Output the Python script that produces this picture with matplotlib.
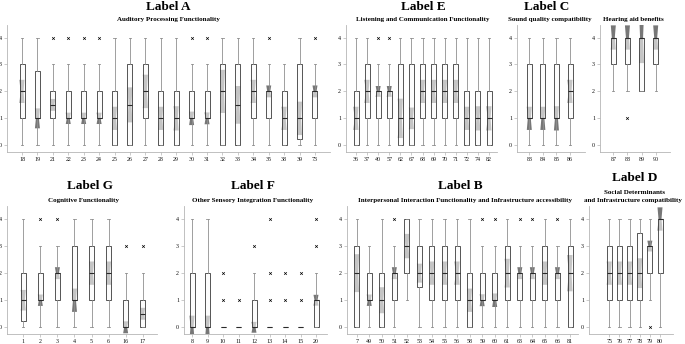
import numpy as np
import matplotlib
matplotlib.use("Agg")
import matplotlib.pyplot as plt

W, H = 685, 344
plt.rcParams["font.family"] = ["Liberation Serif", "DejaVu Serif"]

# columns: item, whisker low, q1, median, q3, whisker high, notch low, notch high
A_rows = [
    ("18", 0, 1, 2, 3, 4, 1.57, 2.43),
    ("19", 0, 1, 1, 2.75, 4, 0.63, 1.37),
    ("21", 0, 1, 1.5, 2, 3, 1.28, 1.72),
    ("22", 0, 1, 1, 2, 3, 0.79, 1.21),
    ("23", 0, 1, 1, 2, 3, 0.79, 1.21),
    ("24", 0, 1, 1, 2, 3, 0.79, 1.21),
    ("25", 0, 0, 1, 2, 4, 0.57, 1.43),
    ("26", 0, 0, 1.5, 3, 4, 0.85, 2.15),
    ("27", 0, 1, 2, 3, 4, 1.38, 2.62),
    ("28", 0, 0, 1, 2, 4, 0.57, 1.43),
    ("29", 0, 0, 1, 2, 4, 0.55, 1.45),
    ("30", 0, 1, 1, 2, 3, 0.75, 1.25),
    ("31", 0, 1, 1, 2, 3, 0.78, 1.22),
    ("32", 0, 0, 2, 3, 4, 1.2, 2.8),
    ("33", 0, 0, 1.5, 3, 4, 0.8, 2.2),
    ("34", 0, 1, 2, 3, 4, 1.57, 2.43),
    ("35", 0, 1, 2, 2, 3, 1.78, 2.22),
    ("38", 0, 0, 1, 2, 3, 0.57, 1.43),
    ("39", 0, 0.25, 1, 3, 4, 0.38, 1.62),
    ("73", 0, 1, 2, 2, 3, 1.78, 2.22),
]
A_out = {"21": [4], "22": [4], "23": [4], "24": [4], "30": [4], "31": [4], "35": [4], "73": [4]}

E_rows = [
    ("36", 0, 0, 1, 2, 4, 0.57, 1.43),
    ("37", 0, 1, 2, 3, 4, 1.57, 2.43),
    ("40", 0, 1, 2, 2, 3, 1.8, 2.2),
    ("57", 0, 1, 2, 2, 3, 1.8, 2.2),
    ("62", 0, 0, 1, 3, 4, 0.27, 1.73),
    ("67", 0, 0, 1, 3, 4, 0.6, 1.4),
    ("68", 0, 1, 2, 3, 4, 1.57, 2.43),
    ("69", 0, 1, 2, 3, 4, 1.57, 2.43),
    ("70", 0, 1, 2, 3, 4, 1.57, 2.43),
    ("71", 0, 1, 2, 3, 4, 1.57, 2.43),
    ("72", 0, 0, 1, 2, 4, 0.57, 1.43),
    ("74", 0, 0, 1, 2, 4, 0.55, 1.45),
    ("82", 0, 0, 1, 2, 4, 0.55, 1.45),
]
E_out = {"40": [4], "57": [4]}

C_rows = [
    ("83", 0, 1, 1, 3, 4, 0.57, 1.43),
    ("84", 0, 1, 1, 3, 4, 0.57, 1.43),
    ("85", 0, 1, 1, 3, 4, 0.55, 1.45),
    ("86", 0, 1, 2, 3, 4, 1.57, 2.43),
]
C_out = {}

HA_rows = [
    ("87", 2, 3, 4, 4, 4, 3.55, 4.45),
    ("88", 2, 3, 4, 4, 4, 3.55, 4.45),
    ("89", 2, 2, 4, 4, 4, 3.05, 4.95),
    ("90", 2, 3, 4, 4, 4, 3.55, 4.45),
]
HA_out = {"88": [1]}

G_rows = [
    ("1", 0, 0.25, 1, 2, 4, 0.62, 1.38),
    ("2", 0, 1, 1, 2, 3, 0.79, 1.21),
    ("3", 0, 1, 2, 2, 3, 1.78, 2.22),
    ("4", 0, 1, 1, 3, 4, 0.57, 1.43),
    ("5", 0, 1, 2, 3, 4, 1.57, 2.43),
    ("6", 0, 1, 2, 3, 4, 1.57, 2.43),
    ("16", 0, 0, 0, 1, 2, -0.22, 0.22),
    ("17", 0, 0, 0.5, 1, 2, 0.28, 0.72),
]
G_out = {"2": [4], "3": [4], "16": [3], "17": [3]}

F_rows = [
    ("8", 0, 0, 0, 2, 4, -0.43, 0.43),
    ("9", 0, 0, 0, 2, 4, -0.43, 0.43),
    ("10", 0, 0, 0, 0, 0, 0, 0),
    ("11", 0, 0, 0, 0, 0, 0, 0),
    ("12", 0, 0, 0, 1, 2, -0.2, 0.2),
    ("13", 0, 0, 0, 0, 0, 0, 0),
    ("14", 0, 0, 0, 0, 0, 0, 0),
    ("15", 0, 0, 0, 0, 0, 0, 0),
    ("20", 0, 0, 1, 1, 2, 0.8, 1.2),
]
F_out = {"10": [1, 2], "11": [1], "12": [3], "13": [1, 2, 4], "14": [1, 2],
         "15": [1, 2], "20": [3, 4]}

B_rows = [
    ("7", 0, 0, 2, 3, 4, 1.3, 2.7),
    ("49", 0, 1, 1, 2, 3, 0.79, 1.21),
    ("50", 0, 0, 1, 2, 4, 0.52, 1.48),
    ("51", 0, 1, 2, 2, 3, 1.78, 2.22),
    ("52", 1, 2, 3, 4, 4, 2.55, 3.45),
    ("53", 0, 1.5, 2, 3, 4, 1.65, 2.35),
    ("54", 0, 1, 2, 3, 4, 1.57, 2.43),
    ("55", 0, 1, 2, 3, 4, 1.57, 2.43),
    ("56", 0, 1, 2, 3, 4, 1.57, 2.43),
    ("58", 0, 0, 1, 2, 4, 0.57, 1.43),
    ("59", 0, 1, 1, 2, 3, 0.78, 1.22),
    ("60", 0, 1, 1, 2, 3, 0.75, 1.25),
    ("61", 0, 1, 2, 3, 4, 1.47, 2.53),
    ("63", 0, 1, 2, 2, 3, 1.78, 2.22),
    ("64", 0, 1, 2, 2, 3, 1.78, 2.22),
    ("65", 0, 1, 2, 3, 4, 1.57, 2.43),
    ("66", 0, 1, 2, 2, 3, 1.78, 2.22),
    ("81", 0, 0, 2, 3, 4, 1.33, 2.67),
]
B_out = {"51": [4], "59": [4], "60": [4], "63": [4], "64": [4], "66": [4]}

D_rows = [
    ("75", 0, 1, 2, 3, 4, 1.57, 2.43),
    ("76", 0, 1, 2, 3, 4, 1.57, 2.43),
    ("77", 0, 1, 2, 3, 4, 1.57, 2.43),
    ("78", 0, 1, 2, 3.5, 4, 1.45, 2.55),
    ("79", 1, 2, 3, 3, 4, 2.8, 3.2),
    ("80", 0, 2, 4, 4, 4, 3.57, 4.43),
]
D_out = {"79": [0]}

YLIM = (-0.24, 4.47)
BOX_PX = 5.0

fig = plt.figure(figsize=(W / 100, H / 100), dpi=100)


def draw_panel(rows, outliers, left, right, first, last, row_px):
    n = len(rows)
    step = (last - first) / (n - 1)
    x0 = 1 - (first - left) / step
    x1 = n + (right - last) / step
    # pixel position of y=0 and y=4 for this row
    p0, p4 = row_px
    unit = (p0 - p4) / 4
    top = p4 - (YLIM[1] - 4) * unit
    bottom = p0 - YLIM[0] * unit
    ax = fig.add_axes([left / W, 1 - bottom / H, (right - left) / W, (bottom - top) / H])
    ax.set_xlim(x0, x1)
    ax.set_ylim(*YLIM)
    w = BOX_PX / step

    stats = []
    pos = np.arange(1, n + 1)
    for i, (name, lo, q1, med, q3, hi, clo, chi) in enumerate(rows):
        stats.append(dict(label=name, whislo=lo, q1=q1, med=med, q3=q3,
                          whishi=hi, fliers=outliers.get(name, [])))
        # notch drawn underneath a translucent box
        x = pos[i]
        xs = [x - w / 2, x - w * 0.3, x - w / 2, x + w / 2, x + w * 0.3, x + w / 2]
        ys = [clo, med, chi, chi, med, clo]
        ax.fill(xs, ys, color="#777777", lw=0, zorder=1.5)

    ax.bxp(stats, positions=pos, widths=w, capwidths=w * 0.45, patch_artist=True,
           boxprops=dict(facecolor=(0.98, 0.98, 0.98, 0.6), edgecolor="#3a3a3a", linewidth=0.6),
           whiskerprops=dict(color="#8f8f8f", linewidth=0.6),
           capprops=dict(color="#8f8f8f", linewidth=0.6),
           medianprops=dict(color="#2a2a2a", linewidth=0.8),
           flierprops=dict(marker="x", markersize=1.9, markeredgewidth=0.5,
                           markeredgecolor="black"))

    ax.set_yticks([0, 1, 2, 3, 4])
    ax.set_xticks(pos)
    ax.set_xticklabels([r[0] for r in rows])
    for s in ["top", "right"]:
        ax.spines[s].set_visible(False)
    for s in ["left", "bottom"]:
        ax.spines[s].set_color("#b5b5b5")
        ax.spines[s].set_linewidth(0.6)
    ax.tick_params(length=2, width=0.5, color="#b5b5b5", labelsize=4.3, pad=1.5,
                   labelcolor="#111111")
    return ax


TOP = (145.3, 37.5)
BOT = (327.3, 219.0)

draw_panel(A_rows, A_out, 7, 330, 22, 315, TOP)
draw_panel(E_rows, E_out, 346, 497, 356, 489, TOP)
draw_panel(C_rows, C_out, 517, 585, 529.3, 570, TOP)
draw_panel(HA_rows, HA_out, 600, 670, 613.3, 655.7, TOP)
draw_panel(G_rows, G_out, 7, 157, 23.3, 142.7, BOT)
draw_panel(F_rows, F_out, 184, 327, 192, 316, BOT)
draw_panel(B_rows, B_out, 347, 578, 356.7, 570, BOT)
draw_panel(D_rows, D_out, 589, 673, 609.3, 660, BOT)


def label(x, y, s, size):
    fig.text(x / W, 1 - y / H, s, ha="center", va="center", fontsize=size,
             fontweight="bold")


label(168, 7, "Label A", 9.5)
label(168, 19.5, "Auditory Processing Functionality", 5)
label(423, 7, "Label E", 9.5)
label(423, 19.5, "Listening and Communication Functionality", 5)
label(547, 7, "Label C", 9.5)
label(550, 19.5, "Sound quality compatibility", 5)
label(633, 19.5, "Hearing aid benefits", 5)
label(90, 186, "Label G", 9.5)
label(84, 200.5, "Cognitive Functionality", 5)
label(253, 186, "Label F", 9.5)
label(253, 200.5, "Other Sensory Integration Functionality", 5)
label(460, 186, "Label B", 9.5)
label(465, 200.5, "Interpersonal Interaction Functionality and Infrastructure accessibility", 5)
label(635, 178, "Label D", 9.5)
label(635, 192, "Social Determinants", 5)
label(633, 200.5, "and Infrastructure compatibility", 5)

fig.savefig("out.png", dpi=100)
